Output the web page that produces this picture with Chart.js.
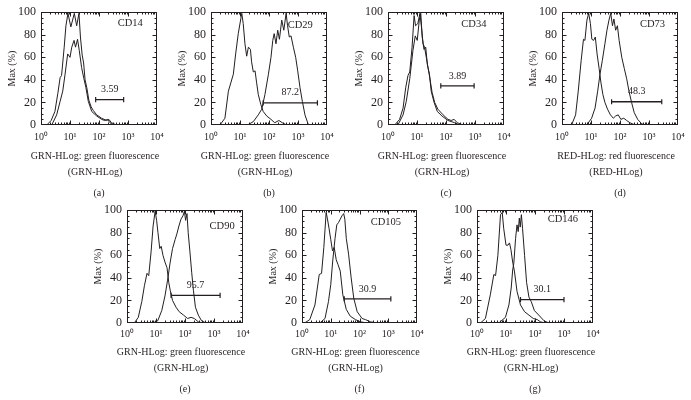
<!DOCTYPE html>
<html>
<head>
<meta charset="utf-8">
<script src="https://cdn.jsdelivr.net/npm/chart.js@4.4.1/dist/chart.umd.min.js"></script>
<style>
html, body { margin: 0; padding: 0; background: #fff; }
#fig { position: relative; width: 691px; height: 400px; overflow: hidden; background: #fff; }
#fig canvas { position: absolute; }
</style>
</head>
<body>
<div id="fig"></div>
<script>
// ---------------- DATA ----------------
const panelLetters = ['(a)', '(b)', '(c)', '(d)', '(e)', '(f)', '(g)'];
const markerNames = ['CD14', 'CD29', 'CD34', 'CD73', 'CD90', 'CD105', 'CD146'];
const greenAxis = ['GRN-HLog: green fluorescence', '(GRN-HLog)'];
const redAxis = ['RED-HLog: red fluorescence', '(RED-HLog)'];
const axisNames = [greenAxis, greenAxis, greenAxis, redAxis, greenAxis, greenAxis, greenAxis];
const xTickValues = [1, 10, 100, 1000, 10000];
const xTickLabels = ['10⁰', '10¹', '10²', '10³', '10⁴'];
const yAxisName = 'Max (%)';

const gateText = ['3.59', '87.2', '3.89', '48.3', '95.7', '30.9', '30.1'];
const gateFrom = [76.7, 63.1, 66.1, 51.3, 33.1, 29.5, 31.6];
const gateTo = [708, 4677, 933, 2754, 1622, 1230, 1000];
const gateLevel = [22.5, 19.7, 34.6, 20.6, 24.5, 21.3, 20.8];

// (a) CD14
const cd14IsoX = [1.58, 2.24, 3.02, 3.80, 4.57, 5.13, 6.31, 7.24, 8.51, 10.7, 14.1, 17.0, 20.4, 22.9, 26.3, 29.5, 33.1, 38.0, 44.7, 53.7, 63.1, 83.2, 123, 182, 219, 269, 398];
const cd14IsoY = [0, 4, 12, 28, 42, 44, 69, 88, 99, 87, 99, 88, 99, 78, 62, 55, 40, 33, 22, 16, 13, 9, 6, 4, 5, 2, 0];
const cd14StX = [2.34, 3.47, 4.57, 5.62, 6.76, 8.32, 10.0, 11.5, 13.8, 15.5, 18.2, 20.9, 25.1, 30.2, 35.5, 42.7, 56.2, 83.2, 123, 158, 195, 240, 316];
const cd14StY = [0, 9, 21, 30, 45, 63, 60, 69, 75, 69, 76, 66, 51, 41, 33, 21, 12, 8, 5, 4, 5, 2, 0];
// (b) CD29
const cd29IsoX = [2.04, 3.02, 3.98, 4.90, 5.89, 7.08, 8.71, 11.5, 12.9, 14.8, 17.0, 19.5, 22.9, 25.1, 28.8, 33.1, 37.2, 42.7, 52.5, 63.1, 83.2, 117, 158, 219, 288, 407];
const cd29IsoY = [0, 6, 30, 38, 45, 63, 81, 99, 90, 72, 61, 69, 67, 56, 47, 48, 38, 27, 18, 12, 8, 5, 2, 4, 2, 0];
const cd29StX = [18.2, 28.8, 42.7, 56.2, 72.4, 95.5, 117, 135, 151, 174, 200, 229, 275, 324, 389, 437, 501, 575, 692, 832, 977, 1175, 1413, 1738, 2291];
const cd29StY = [0, 3, 9, 14, 27, 45, 60, 75, 81, 72, 84, 76, 93, 84, 99, 88, 78, 79, 69, 60, 48, 33, 21, 9, 0];
// (c) CD34
const cd34IsoX = [1.70, 2.51, 3.31, 4.07, 4.90, 5.62, 6.76, 7.94, 8.91, 10.7, 12.6, 14.1, 16.2, 18.2, 20.9, 24.0, 27.5, 33.1, 40.7, 52.5, 79.4, 117, 151, 191, 245, 389];
const cd34IsoY = [0, 5, 15, 33, 44, 47, 69, 97, 88, 90, 99, 88, 72, 69, 60, 51, 42, 29, 20, 14, 9, 5, 4, 5, 2, 0];
const cd34StX = [2.19, 3.31, 4.27, 5.62, 7.24, 8.71, 10.2, 12.0, 13.5, 15.1, 17.4, 20.0, 22.9, 26.9, 30.9, 38.9, 50.1, 72.4, 117, 200, 295];
const cd34StY = [0, 9, 21, 41, 66, 79, 75, 93, 99, 78, 67, 69, 53, 45, 30, 20, 12, 8, 4, 2, 0];
// (d) CD73
const cd73IsoX = [2.14, 2.95, 3.63, 4.57, 5.50, 6.17, 7.24, 8.32, 9.55, 10.7, 12.3, 14.1, 16.2, 19.1, 21.9, 25.7, 30.2, 37.2, 46.8, 58.9, 70.8, 87.1, 107, 135, 170, 219, 331];
const cd73IsoY = [0, 9, 30, 57, 76, 75, 93, 99, 90, 76, 75, 78, 63, 50, 38, 27, 20, 14, 9, 6, 8, 9, 5, 6, 4, 2, 0];
const cd73StX = [7.08, 10.5, 13.8, 17.0, 20.4, 24.5, 30.2, 35.5, 41.7, 47.9, 55.0, 61.7, 70.8, 81.3, 93.3, 115, 141, 170, 204, 251, 309, 407, 562, 776];
const cd73StY = [0, 6, 15, 30, 45, 57, 72, 84, 93, 99, 88, 94, 84, 88, 75, 60, 50, 41, 30, 20, 11, 5, 1, 0];
// (e) CD90
const cd90IsoX = [1.78, 2.45, 3.24, 3.98, 4.90, 5.62, 6.76, 7.94, 9.33, 10.5, 11.7, 13.5, 15.1, 17.4, 20.4, 24.0, 27.5, 30.9, 37.2, 49.0, 63.1, 89.1, 123, 162, 209, 288, 407];
const cd90IsoY = [0, 5, 19, 33, 44, 42, 63, 86, 99, 91, 80, 66, 68, 60, 54, 49, 36, 29, 20, 14, 10, 7, 4, 5, 4, 1, 0];
const cd90StX = [7.76, 11.5, 15.8, 20.4, 25.1, 30.9, 37.2, 45.7, 52.5, 61.7, 72.4, 85.1, 95.5, 105, 117, 129, 148, 170, 195, 229, 288, 372, 525];
const cd90StY = [0, 2, 11, 24, 38, 54, 66, 74, 79, 86, 92, 95, 99, 91, 97, 80, 63, 45, 29, 14, 7, 2, 0];
// (f) CD105
const cd105IsoX = [1.23, 1.86, 2.82, 3.98, 4.79, 5.75, 6.92, 7.59, 8.71, 10.0, 11.5, 13.2, 15.5, 17.8, 21.4, 26.3, 34.7, 47.9, 72.4, 110, 186];
const cd105IsoY = [0, 3, 16, 43, 44, 67, 98, 93, 84, 74, 64, 67, 56, 52, 46, 25, 12, 6, 3, 1, 0];
const cd105StX = [4.17, 6.31, 8.32, 10.0, 11.7, 14.1, 16.2, 18.6, 21.4, 24.5, 28.2, 30.9, 34.7, 41.7, 51.3, 63.1, 83.2, 123, 162, 245, 417];
const cd105StY = [0, 4, 19, 34, 55, 75, 87, 89, 92, 95, 97, 92, 75, 61, 40, 22, 10, 4, 3, 1, 0];
// (g) CD146
const cd146IsoX = [1.32, 1.95, 2.88, 3.80, 4.37, 5.25, 6.46, 7.41, 8.32, 10.0, 11.7, 13.2, 14.8, 17.0, 19.5, 24.0, 31.6, 43.7, 61.7, 87.1, 120, 155, 229];
const cd146IsoY = [0, 4, 25, 43, 42, 60, 96, 98, 84, 69, 69, 71, 65, 54, 46, 28, 16, 10, 7, 4, 3, 1, 0];
const cd146StX = [5.62, 9.55, 12.6, 15.1, 17.0, 18.6, 21.4, 24.0, 26.3, 28.8, 30.9, 33.9, 37.2, 43.7, 51.3, 61.7, 74.1, 95.5, 135, 204, 302];
const cd146StY = [0, 5, 16, 31, 47, 53, 75, 87, 81, 93, 85, 96, 84, 60, 36, 23, 19, 11, 7, 2, 0];

const isoX = [cd14IsoX, cd29IsoX, cd34IsoX, cd73IsoX, cd90IsoX, cd105IsoX, cd146IsoX];
const isoY = [cd14IsoY, cd29IsoY, cd34IsoY, cd73IsoY, cd90IsoY, cd105IsoY, cd146IsoY];
const stX = [cd14StX, cd29StX, cd34StX, cd73StX, cd90StX, cd105StX, cd146StX];
const stY = [cd14StY, cd29StY, cd34StY, cd73StY, cd90StY, cd105StY, cd146StY];

// ---------------- LAYOUT / STYLE ----------------
const INK = '#231f20';
const FONT = "'Liberation Serif', 'Times New Roman', serif";
const Y_AXIS_W = 40, RIGHT_W = 32, TOP_PAD = 12, PLOT_H = 113, BELOW_AXIS = 54;
const panelLayout = [
  { plotLeft: 41,  plotTop: 12,  plotWidth: 116, xAxisH: 23, tickPad: 6, markerAt: [0.77, 0.10] },
  { plotLeft: 211, plotTop: 12,  plotWidth: 116, xAxisH: 23, tickPad: 6, markerAt: [0.77, 0.115] },
  { plotLeft: 388, plotTop: 12,  plotWidth: 116, xAxisH: 23, tickPad: 6, markerAt: [0.74, 0.11] },
  { plotLeft: 562, plotTop: 12,  plotWidth: 116, xAxisH: 23, tickPad: 6, markerAt: [0.78, 0.11] },
  { plotLeft: 127, plotTop: 210, plotWidth: 116, xAxisH: 21, tickPad: 5, markerAt: [0.82, 0.14] },
  { plotLeft: 302, plotTop: 210, plotWidth: 115, xAxisH: 21, tickPad: 5, markerAt: [0.73, 0.11] },
  { plotLeft: 477, plotTop: 210, plotWidth: 116, xAxisH: 21, tickPad: 5, markerAt: [0.74, 0.08] }
];

const framePlugin = {
  id: 'frame',
  afterDatasetsDraw(chart, _args, o) {
    const { ctx, chartArea: a } = chart;
    const xs = chart.scales.x, ys = chart.scales.y;
    ctx.save();
    ctx.strokeStyle = INK;
    ctx.lineWidth = 1;
    const L = Math.round(a.left) + 0.5, R = Math.round(a.right) - 0.5;
    const T = Math.round(a.top) + 0.5, B = Math.round(a.bottom) - 0.5;
    ctx.strokeRect(L, T, R - L, B - T);
    ctx.beginPath();
    for (let d = 0; d < 4; d++) {
      for (let k = 1; k < 10; k++) {
        if (d === 0 && k === 1) continue;
        const px = Math.round(xs.getPixelForValue(k * Math.pow(10, d))) + 0.5;
        const len = k === 1 ? 4 : 2;
        ctx.moveTo(px, B); ctx.lineTo(px, B - len);
        ctx.moveTo(px, T); ctx.lineTo(px, T + len);
      }
    }
    for (let v = 5; v < 100; v += 5) {
      const py = Math.round(ys.getPixelForValue(v)) + 0.5;
      const len = v % 20 === 0 ? 4 : 2;
      ctx.moveTo(L, py); ctx.lineTo(L + len, py);
      ctx.moveTo(R, py); ctx.lineTo(R - len, py);
    }
    ctx.stroke();
    ctx.fillStyle = INK;
    ctx.textAlign = 'center';
    ctx.textBaseline = 'middle';
    ctx.font = '10.5px ' + FONT;
    ctx.fillText(o.marker, a.left + o.markerAt[0] * a.width, a.top + o.markerAt[1] * a.height);
    ctx.font = '10px ' + FONT;
    const gx = xs.getPixelForValue(Math.sqrt(o.gateFrom * o.gateTo));
    const gy = ys.getPixelForValue(o.gateLevel);
    ctx.fillText(o.gateText, gx, gy - 10);
    ctx.restore();
  }
};

const fig = document.getElementById('fig');
const toPoints = (xv, yv) => xv.map((x, k) => ({ x: x, y: yv[k] }));

panelLayout.forEach((lay, i) => {
  const cv = document.createElement('canvas');
  const w = Y_AXIS_W + lay.plotWidth + RIGHT_W;
  const h = TOP_PAD + PLOT_H + lay.xAxisH + BELOW_AXIS;
  cv.width = w; cv.height = h;
  cv.style.width = w + 'px'; cv.style.height = h + 'px';
  cv.style.left = (lay.plotLeft - Y_AXIS_W) + 'px';
  cv.style.top = (lay.plotTop - TOP_PAD) + 'px';
  fig.appendChild(cv);

  const lineStyle = { borderColor: INK, borderWidth: 1, pointRadius: 0, tension: 0, fill: false };
  new Chart(cv, {
    type: 'line',
    data: {
      datasets: [
        Object.assign({ label: markerNames[i] + ' control', data: toPoints(isoX[i], isoY[i]) }, lineStyle),
        Object.assign({ label: markerNames[i], data: toPoints(stX[i], stY[i]) }, lineStyle),
        {
          label: 'gate ' + gateText[i],
          data: [{ x: gateFrom[i], y: gateLevel[i] }, { x: gateTo[i], y: gateLevel[i] }],
          borderColor: INK, borderWidth: 1.3,
          pointStyle: 'line', pointRotation: 90, pointRadius: 2.6,
          pointBorderColor: INK, pointBorderWidth: 1.2, pointBackgroundColor: INK
        }
      ]
    },
    options: {
      responsive: false,
      animation: false,
      events: [],
      layout: { padding: { top: TOP_PAD, left: 0, right: 0, bottom: 0 } },
      plugins: {
        legend: { display: false },
        tooltip: { enabled: false },
        subtitle: {
          display: true, position: 'bottom', text: axisNames[i], color: INK,
          font: { family: FONT, size: 10, lineHeight: 1.65, weight: 'normal' },
          padding: { top: 0, bottom: 4 }
        },
        title: {
          display: true, position: 'bottom', fullSize: false, text: panelLetters[i], color: INK,
          font: { family: FONT, size: 10, lineHeight: 1.2, weight: 'normal' },
          padding: { top: 2, bottom: 3 }
        },
        frame: {
          marker: markerNames[i], markerAt: lay.markerAt,
          gateText: gateText[i], gateFrom: gateFrom[i], gateTo: gateTo[i], gateLevel: gateLevel[i]
        }
      },
      scales: {
        x: {
          type: 'logarithmic', min: 1, max: 10000,
          afterBuildTicks: s => { s.ticks = xTickValues.map(v => ({ value: v, major: true })); },
          afterFit: s => { s.height = lay.xAxisH; },
          grid: { display: false, drawTicks: false },
          border: { display: false },
          ticks: {
            autoSkip: false, maxRotation: 0, padding: lay.tickPad, color: INK,
            font: { family: FONT, size: 10 },
            callback: v => { const k = xTickValues.indexOf(v); return k >= 0 ? xTickLabels[k] : ''; }
          }
        },
        y: {
          min: 0, max: 100,
          afterFit: s => { s.width = Y_AXIS_W; },
          grid: { display: false, drawTicks: false },
          border: { display: false },
          ticks: { stepSize: 20, padding: 5, color: INK, font: { family: FONT, size: 12 } },
          title: {
            display: true, text: yAxisName, color: INK,
            font: { family: FONT, size: 10 }, padding: { top: 5, bottom: 0 }
          }
        },
        yr: {
          position: 'right', display: true,
          afterFit: s => { s.width = RIGHT_W; },
          grid: { display: false, drawTicks: false },
          border: { display: false },
          ticks: { display: false }
        }
      }
    },
    plugins: [framePlugin]
  });
});
</script>
</body>
</html>
